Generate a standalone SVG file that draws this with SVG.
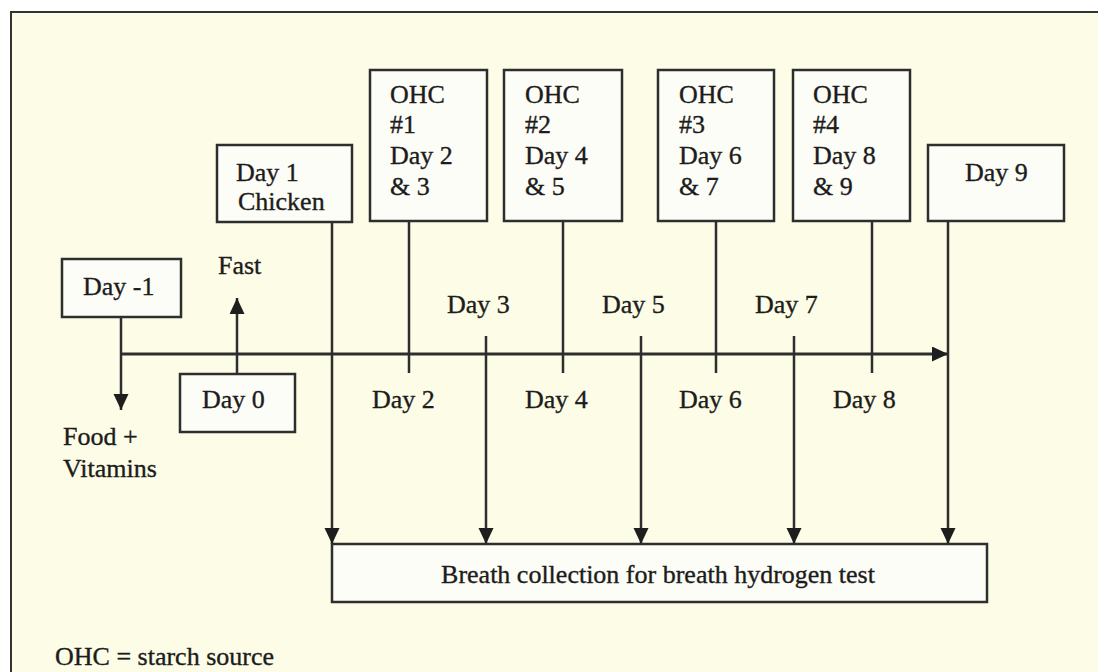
<svg xmlns="http://www.w3.org/2000/svg" width="1098" height="672" viewBox="0 0 1098 672">
  <style>
    .box { fill: #fdfdf7; stroke: #2e2e2e; stroke-width: 2.5; }
    .t { font-family: "Liberation Serif", "Times New Roman", serif; font-size: 26px; fill: #1c1c1c; stroke: #1c1c1c; stroke-width: 0.35; }
    .ln { stroke: #2e2e2e; stroke-width: 2.5; fill: none; }
    .ax { stroke: #2e2e2e; stroke-width: 3; fill: none; }
  </style>
  <defs>
    <marker id="ah" markerUnits="userSpaceOnUse" markerWidth="17" markerHeight="16" refX="16" refY="7.5" orient="auto">
      <path d="M0,0 L16,7.5 L0,15 z" fill="#1e1e1e"/>
    </marker>
  </defs>
  <rect x="0" y="0" width="1098" height="672" fill="#ffffff"/>
  <rect id="frame" x="11" y="12" width="1100" height="700" fill="#fdfce6" stroke="#333" stroke-width="2"/>

  <g id="connectors">
    <line class="ax" x1="121" y1="354" x2="948" y2="354" marker-end="url(#ah)"/>
    <line class="ln" x1="121" y1="317" x2="121" y2="410" marker-end="url(#ah)"/>
    <line class="ln" x1="237" y1="374" x2="237" y2="298" marker-end="url(#ah)"/>
    <line class="ln" x1="409" y1="221" x2="409" y2="373"/>
    <line class="ln" x1="563" y1="221" x2="563" y2="373"/>
    <line class="ln" x1="716" y1="221" x2="716" y2="373"/>
    <line class="ln" x1="872" y1="221" x2="872" y2="373"/>
    <line class="ln" x1="332" y1="222" x2="332" y2="544" marker-end="url(#ah)"/>
    <line class="ln" x1="486" y1="336" x2="486" y2="544" marker-end="url(#ah)"/>
    <line class="ln" x1="641" y1="336" x2="641" y2="544" marker-end="url(#ah)"/>
    <line class="ln" x1="794" y1="336" x2="794" y2="544" marker-end="url(#ah)"/>
    <line class="ln" x1="948" y1="221" x2="948" y2="544" marker-end="url(#ah)"/>
  </g>

  <g id="day-minus1">
    <rect class="box" x="62" y="259" width="119" height="58"/>
    <text class="t" x="83" y="295">Day -1</text>
  </g>
  <g id="day0">
    <rect class="box" x="180" y="374" width="115" height="58"/>
    <text class="t" x="202" y="408">Day 0</text>
  </g>
  <g id="day1">
    <rect class="box" x="217" y="145" width="135" height="77"/>
    <text class="t" x="236" y="181">Day 1</text>
    <text class="t" x="238" y="210">Chicken</text>
  </g>
  <g id="ohc1">
    <rect class="box" x="370" y="70" width="117" height="151"/>
    <text class="t" x="390" y="103">OHC</text>
    <text class="t" x="390" y="133">#1</text>
    <text class="t" x="390" y="164">Day 2</text>
    <text class="t" x="390" y="195">&amp; 3</text>
  </g>
  <g id="ohc2">
    <rect class="box" x="504" y="70" width="118" height="151"/>
    <text class="t" x="525" y="103">OHC</text>
    <text class="t" x="525" y="133">#2</text>
    <text class="t" x="525" y="164">Day 4</text>
    <text class="t" x="525" y="195">&amp; 5</text>
  </g>
  <g id="ohc3">
    <rect class="box" x="658" y="70" width="116" height="151"/>
    <text class="t" x="679" y="103">OHC</text>
    <text class="t" x="679" y="133">#3</text>
    <text class="t" x="679" y="164">Day 6</text>
    <text class="t" x="679" y="195">&amp; 7</text>
  </g>
  <g id="ohc4">
    <rect class="box" x="793" y="70" width="117" height="151"/>
    <text class="t" x="813" y="103">OHC</text>
    <text class="t" x="813" y="133">#4</text>
    <text class="t" x="813" y="164">Day 8</text>
    <text class="t" x="813" y="195">&amp; 9</text>
  </g>
  <g id="day9">
    <rect class="box" x="928" y="145" width="136" height="76"/>
    <text class="t" x="965" y="181">Day 9</text>
  </g>
  <g id="breath">
    <rect class="box" x="332" y="544" width="655" height="58"/>
    <text class="t" x="658" y="583" text-anchor="middle">Breath collection for breath hydrogen test</text>
  </g>

  <g id="labels">
    <text class="t" x="218" y="274">Fast</text>
    <text class="t" x="63" y="445">Food +</text>
    <text class="t" x="63" y="477">Vitamins</text>
    <text class="t" x="447" y="313">Day 3</text>
    <text class="t" x="602" y="313">Day 5</text>
    <text class="t" x="755" y="313">Day 7</text>
    <text class="t" x="372" y="408">Day 2</text>
    <text class="t" x="525" y="408">Day 4</text>
    <text class="t" x="679" y="408">Day 6</text>
    <text class="t" x="833" y="408">Day 8</text>
    <text class="t" x="55" y="665">OHC = starch source</text>
  </g>
</svg>
